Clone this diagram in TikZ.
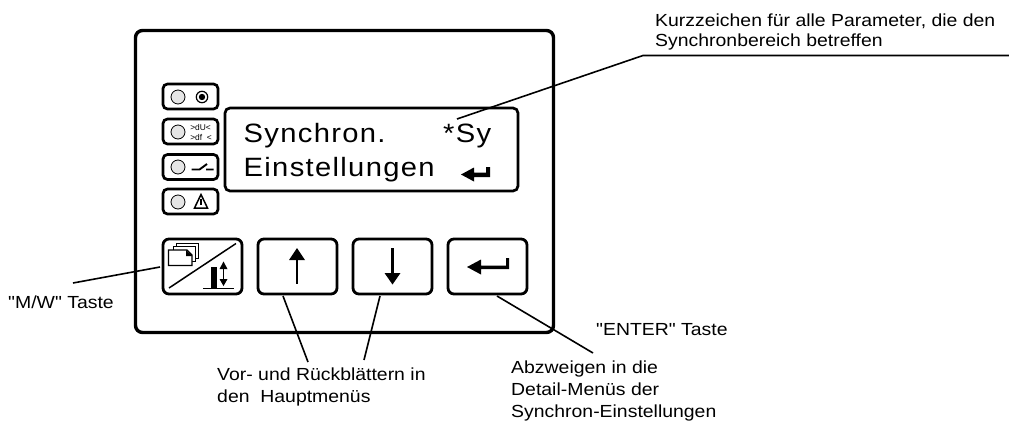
\documentclass[tikz,border=0pt]{standalone}
\usepackage{fontspec}
\setmainfont{Liberation Sans}
\newfontfamily\notefont[FakeStretch=1.11]{Liberation Sans}
\newfontfamily\dispfont[FakeStretch=1.1,LetterSpace=5]{Liberation Sans}
\tikzset{
  panel/.style={draw=black,line width=3.4pt,rounded corners=7pt,fill=white,inner sep=0pt},
  ledbox/.style={draw=black,line width=2.7pt,rounded corners=4.5pt,fill=white,inner sep=0pt,minimum width=55pt,minimum height=25pt},
  dispbox/.style={draw=black,line width=2.7pt,rounded corners=5pt,fill=white,inner sep=0pt},
  keybox/.style={draw=black,line width=2.8pt,rounded corners=6pt,fill=white,inner sep=0pt,minimum width=79pt,minimum height=55pt},
  lamp/.style={draw=black,line width=.8pt,fill=black!10},
  lead/.style={draw=black,line width=1.6pt},
  note/.style={anchor=base west,align=left,inner sep=0pt},
  disp/.style={anchor=base west,inner sep=0pt,font=\dispfont\fontsize{26.5}{30}\selectfont},
}
\begin{document}
\begin{tikzpicture}[x=1pt,y=-1pt]
\useasboundingbox (0,0) rectangle (1009,421);
\node[panel,minimum width=418pt,minimum height=302pt] (front) at (344.5,181.5) {};
% LED boxes
\node[ledbox] (l1) at (190.5,96.5) {};
\node[ledbox] (l2) at (190.5,131.5) {};
\node[ledbox] (l3) at (190.5,167) {};
\node[ledbox] (l4) at (190.5,201.5) {};
\foreach \y in {97,132,167,202}{\draw[lamp] (178,\y) circle (7pt);}
% symbols in LED boxes
\draw[line width=1.2pt] (202,97) circle (5.7pt);
\fill (202,97) circle (3.2pt);
\node[inner sep=0pt,align=left,font=\fontsize{8.4}{10.5}\selectfont] (dfu) at (201,132.5) {>dU<\\>df\ \ <};
\draw[line width=1.9pt] (191.5,169.5)--(199.5,169.5)--(207,164) (206,169.5)--(213.5,169.5);
\draw[line width=1.5pt,line join=miter] (201,194.5)--(194.5,208)--(207.5,208)--cycle;
\draw[line width=1.2pt] (201,198.5)--(201,205);
% display
\node[dispbox,minimum width=293pt,minimum height=83pt] (display) at (371.5,149.5) {};
\node[disp] (t1) at (243.5,142) {Synchron.};
\node[disp] (t2) at (443,142) {*Sy};
\node[disp] (t3) at (243.5,176.5) {Einstellungen};
\fill (461,174.5)--(474,167.5)--(474,172.5)--(486,172.5)--(486,167)--(490,167)--(490,177)--(474,177)--(474,181.5)--cycle;
% keys
\node[keybox] (mw) at (202.5,266.5) {};
\node[keybox] (up) at (297.5,266.5) {};
\node[keybox] (down) at (392.5,266.5) {};
\node[keybox] (enter) at (487.5,266.5) {};
% M/W symbol
\draw[line width=1.5pt] (169,288)--(236,243.5);
\draw[line width=1pt,fill=white] (176,243.5)--(198,243.5)--(198,258)--(176,258)--cycle;
\draw[line width=1pt,fill=white] (173,246.5)--(195,246.5)--(195,261)--(173,261)--cycle;
\draw[line width=1.3pt,fill=white] (168.5,250)--(187,250)--(192,255)--(192,265.5)--(168.5,265.5)--cycle;
\fill (186,250)--(192.5,256)--(186,256)--cycle;
\fill (211,267) rectangle (217,288);
\draw[line width=1.3pt] (203,288.5)--(234,288.5);
\draw[line width=1.3pt] (223.5,266)--(223.5,282);
\fill (223.5,261.5)--(219.5,269)--(227.5,269)--cycle;
\fill (223.5,286)--(219.5,279)--(227.5,279)--cycle;
% up / down arrows
\draw[line width=2.4pt] (297,258)--(297,284);
\fill (297,248)--(289,260)--(305,260)--cycle;
\draw[line width=2.4pt] (392.5,248)--(392.5,275);
\fill (392.5,284.5)--(384.5,273)--(400.5,273)--cycle;
% enter symbol
\fill (467,267)--(481,259.5)--(481,265.5)--(506,265.5)--(506,258)--(509,258)--(509,269)--(481,269)--(481,274.5)--cycle;
% notes
\node[note,font=\notefont\fontsize{17.5}{20}\selectfont] (nKurz) at (655,46) {Kurzzeichen für alle Parameter, die den\\Synchronbereich betreffen};
\node[note,font=\notefont\fontsize{17.5}{20}\selectfont] (nMW) at (8,308) {"M/W" Taste};
\node[note,font=\notefont\fontsize{17.5}{21.5}\selectfont] (nVor) at (217,402) {Vor- und Rückblättern in\\den\ \ Hauptmenüs};
\node[note,font=\notefont\fontsize{17.5}{20}\selectfont] (nEnter) at (596,335) {"ENTER" Taste};
\node[note,font=\notefont\fontsize{17.5}{22}\selectfont] (nAbz) at (511,417) {Abzweigen in die\\Detail-Menüs der\\Synchron-Einstellungen};
% leaders
\coordinate (kA) at (457,119);
\coordinate (kB) at (643,55.5);
\coordinate (kC) at (1009,55.5);
\draw[lead] (kA)--(kB)--(kC);
\coordinate (mwA) at (160,267);
\coordinate (mwB) at (73,283);
\draw[lead] (mwA)--(mwB);
\coordinate (upA) at (283,296);
\coordinate (vorA) at (308,362);
\draw[lead] (upA)--(vorA);
\coordinate (dnA) at (380,296);
\coordinate (vorB) at (364,360);
\draw[lead] (dnA)--(vorB);
\coordinate (enA) at (497,296);
\coordinate (enB) at (593,353);
\draw[lead] (enA)--(enB);
\end{tikzpicture}
\end{document}
